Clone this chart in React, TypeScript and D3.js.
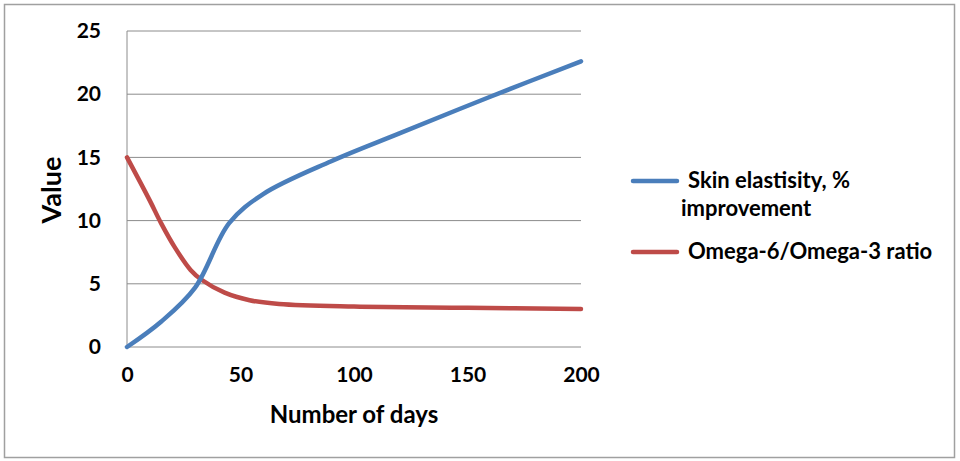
import React, { useEffect, useRef } from 'react';
import * as d3 from 'd3';

const W = 960;
const H = 461;

// days and values
const skinDays = [0, 15, 30, 45, 60, 90, 120, 160, 200];
const skinValues = [0, 2.0, 4.7, 9.8, 12.1, 14.7, 16.9, 19.8, 22.6];
const omegaDays = [0, 10, 15, 21, 28, 33, 43, 54, 67, 100, 150, 200];
const omegaValues = [15, 11.6, 9.8, 7.9, 6.1, 5.3, 4.3, 3.7, 3.4, 3.2, 3.1, 3.0];
const xTicks = [0, 50, 100, 150, 200];
const yTicks = [0, 5, 10, 15, 20, 25];
const seriesNames = ['Skin elastisity, %', 'Omega-6/Omega-3 ratio'];
const seriesColors = ['#4a7ebb', '#be4b48'];

const FONT = 'Lato, "Open Sans", sans-serif';

const App = () => {
  const svgRef = useRef<SVGSVGElement>(null);

  useEffect(() => {
    const svg = d3.select(svgRef.current);
    svg.selectAll('*').remove();

    const x = d3.scaleLinear().domain([0, 200]).range([127, 581]);
    const y = d3.scaleLinear().domain([0, 25]).range([347, 31]);

    // outer frame
    svg.append('rect')
      .attr('x', 4.5).attr('y', 4.5)
      .attr('width', 950).attr('height', 453)
      .attr('fill', 'white')
      .attr('stroke', '#a0a0a0')
      .attr('stroke-width', 1.5);

    // gridlines
    svg.append('g')
      .selectAll('line')
      .data(yTicks)
      .join('line')
      .attr('x1', x(0)).attr('x2', x(200))
      .attr('y1', d => y(d)).attr('y2', d => y(d))
      .attr('stroke', '#8c8c8c')
      .attr('stroke-width', 1);

    // y axis line
    svg.append('line')
      .attr('x1', x(0)).attr('x2', x(0))
      .attr('y1', y(0)).attr('y2', y(25))
      .attr('stroke', '#8c8c8c');

    const yAxis = d3.axisLeft(y).tickValues(yTicks).tickSize(0).tickPadding(26);
    svg.append('g')
      .attr('transform', `translate(${x(0)},0)`)
      .call(yAxis)
      .call(g => g.select('.domain').remove())
      .call(g => g.selectAll('text')
        .attr('font-family', FONT)
        .attr('font-weight', 'bold')
        .attr('font-size', 21)
        .attr('fill', '#000'));

    const xAxis = d3.axisBottom(x).tickValues(xTicks).tickSize(0).tickPadding(20);
    svg.append('g')
      .attr('transform', `translate(0,${y(0)})`)
      .call(xAxis)
      .call(g => g.select('.domain').remove())
      .call(g => g.selectAll('text')
        .attr('font-family', FONT)
        .attr('font-weight', 'bold')
        .attr('font-size', 21)
        .attr('fill', '#000'));

    // axis titles
    svg.append('text')
      .text('Number of days')
      .attr('x', 354).attr('y', 423)
      .attr('text-anchor', 'middle')
      .attr('font-family', FONT)
      .attr('font-weight', 'bold')
      .attr('font-size', 24);

    svg.append('text')
      .text('Value')
      .attr('transform', 'translate(61,190) rotate(-90)')
      .attr('text-anchor', 'middle')
      .attr('font-family', FONT)
      .attr('font-weight', 'bold')
      .attr('font-size', 27);

    // lines
    const series = [
      { days: skinDays, values: skinValues },
      { days: omegaDays, values: omegaValues },
    ];
    const line = d3.line<[number, number]>()
      .x(d => x(d[0]))
      .y(d => y(d[1]))
      .curve(d3.curveCatmullRom.alpha(0.5));

    // red drawn first so blue sits on top, as in the picture
    [1, 0].forEach(i => {
      const pts = series[i].days.map((d, k) => [d, series[i].values[k]] as [number, number]);
      svg.append('path')
        .attr('d', line(pts))
        .attr('fill', 'none')
        .attr('stroke', seriesColors[i])
        .attr('stroke-width', 4.5)
        .attr('stroke-linecap', 'round')
        .attr('stroke-linejoin', 'round');
    });

    // legend
    const legend = svg.append('g');
    const legendY = [181, 252];
    seriesColors.forEach((c, i) => {
      legend.append('line')
        .attr('x1', 633).attr('x2', 677)
        .attr('y1', legendY[i]).attr('y2', legendY[i])
        .attr('stroke', c)
        .attr('stroke-width', 4.5)
        .attr('stroke-linecap', 'round');
      legend.append('text')
        .text(seriesNames[i])
        .attr('x', 688).attr('y', legendY[i] + 7)
        .attr('font-family', FONT)
        .attr('font-weight', 'bold')
        .attr('font-size', 22);
    });
    legend.append('text')
      .text('improvement')
      .attr('x', 681).attr('y', 216)
      .attr('font-family', FONT)
      .attr('font-weight', 'bold')
      .attr('font-size', 22);
  }, []);

  return (
    <svg
      ref={svgRef}
      width={W}
      height={H}
      viewBox={`0 0 ${W} ${H}`}
      style={{ position: 'absolute', left: 0, top: 0, background: 'white' }}
    />
  );
};

export default App;
